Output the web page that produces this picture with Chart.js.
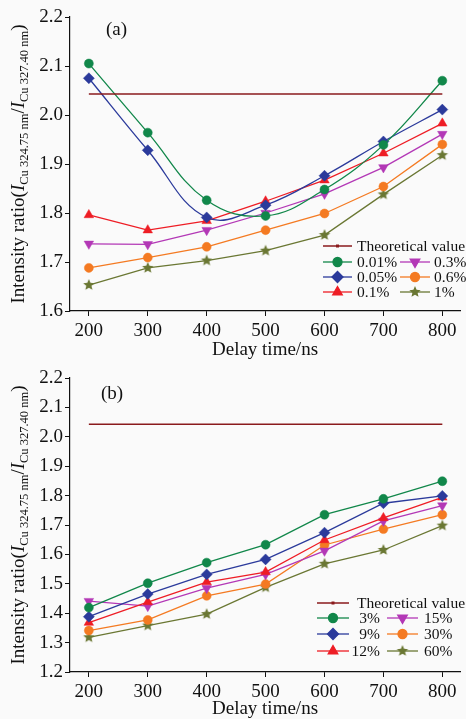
<!DOCTYPE html>
<html><head><meta charset="utf-8">
<script src="https://cdn.jsdelivr.net/npm/chart.js@4.4.1/dist/chart.umd.min.js"></script>
<style>
html,body{margin:0;padding:0;background:#fafafa;width:466px;height:719px;overflow:hidden}
#wa{position:absolute;left:0;top:0;width:466px;height:360px}
#wb{position:absolute;left:0;top:361px;width:466px;height:358px}
</style></head><body>
<div id="wa"><canvas id="ca"></canvas></div>
<div id="wb"><canvas id="cb"></canvas></div>
<script>
// ---- data ----
const delays = [200, 300, 400, 500, 600, 700, 800];
const xTicks = [200, 300, 400, 500, 600, 700, 800];
const yTicksA = [1.6, 1.7, 1.8, 1.9, 2.0, 2.1, 2.2];
const yTicksB = [1.2, 1.3, 1.4, 1.5, 1.6, 1.7, 1.8, 1.9, 2.0, 2.1, 2.2];
const theoretical = 2.043;
const theoreticalLabel = 'Theoretical value';

const labelsA = ['0.01%', '0.05%', '0.1%', '0.3%', '0.6%', '1%'];
const a001 = [2.105, 1.964, 1.826, 1.794, 1.848, 1.939, 2.070];
const a005 = [2.075, 1.928, 1.791, 1.816, 1.876, 1.946, 2.011];
const a01  = [1.796, 1.765, 1.784, 1.824, 1.867, 1.922, 1.983];
const a03  = [1.737, 1.736, 1.765, 1.800, 1.839, 1.893, 1.961];
const a06  = [1.688, 1.709, 1.731, 1.765, 1.799, 1.854, 1.940];
const a1   = [1.653, 1.688, 1.703, 1.723, 1.755, 1.838, 1.918];

const labelsB = ['3%', '9%', '12%', '15%', '30%', '60%'];
const b3  = [1.419, 1.502, 1.572, 1.633, 1.735, 1.789, 1.849];
const b9  = [1.388, 1.465, 1.532, 1.583, 1.674, 1.774, 1.799];
const b12 = [1.368, 1.438, 1.506, 1.540, 1.649, 1.724, 1.794];
const b15 = [1.441, 1.424, 1.485, 1.532, 1.612, 1.714, 1.766];
const b30 = [1.341, 1.377, 1.459, 1.499, 1.632, 1.686, 1.735];
const b60 = [1.318, 1.358, 1.397, 1.488, 1.568, 1.615, 1.698];

// ---- styles ----
const FONT = '"Liberation Serif", "Times New Roman", serif';
const C = {green:'#11874a', blue:'#2b3a9b', red:'#ee1d25', mag:'#b338b6', orange:'#f47a22', olive:'#6a7733', theo:'#8a1a1c'};

function starImg(color, r){
  const s = Math.ceil(r*2+2);
  const c = document.createElement('canvas'); c.width = s; c.height = s;
  const g = c.getContext('2d'); g.fillStyle = color; g.beginPath();
  for (let i=0;i<10;i++){
    const rr = i%2 ? r*0.45 : r; const a = -Math.PI/2 + i*Math.PI/5;
    g.lineTo(s/2 + rr*Math.cos(a), s/2 + rr*Math.sin(a));
  }
  g.closePath(); g.fill(); return c;
}
const styles = [
  {color:C.green, pointStyle:'circle', radius:4.5, rotation:0},
  {color:C.blue, pointStyle:'rectRot', radius:5.5, rotation:0},
  {color:C.red, pointStyle:'triangle', radius:5.5, rotation:0},
  {color:C.mag, pointStyle:'triangle', radius:5.5, rotation:180},
  {color:C.orange, pointStyle:'circle', radius:4.5, rotation:0},
  {color:C.olive, pointStyle:starImg(C.olive, 6), radius:5.5, rotation:0},
];

function pts(arr){ return delays.map((d,i)=>({x:d, y:arr[i]})); }

function buildDatasets(labels, series, tensions){
  const ds = [{
    label: theoreticalLabel,
    data: pts(delays.map(()=>theoretical)),
    borderColor: C.theo, backgroundColor: C.theo, borderWidth: 1.5,
    pointRadius: 0, tension: 0
  }];
  series.forEach((s,i)=>{
    const st = styles[i];
    ds.push({
      label: labels[i], data: pts(s),
      borderColor: st.color, backgroundColor: st.color, borderWidth: 1.3,
      pointStyle: st.pointStyle, pointRadius: st.radius, pointRotation: st.rotation,
      pointBorderWidth: 0.5, pointHoverRadius: st.radius,
      tension: tensions[i] || 0
    });
  });
  return ds;
}

function yTitlePlugin(baseX){
  return {
    id:'ytitle',
    afterDraw(chart){
      const ctx = chart.ctx, ca = chart.chartArea;
      const cy = (ca.top + ca.bottom)/2;
      const big = '19px ' + FONT, bigI = 'italic 19px ' + FONT, sub = '12.5px ' + FONT;
      const segs = [
        {t:'Intensity ratio(', f:big, d:0},
        {t:'I', f:bigI, d:0},
        {t:'Cu 324.75 nm', f:sub, d:4},
        {t:'/', f:big, d:0},
        {t:'I', f:bigI, d:0},
        {t:'Cu 327.40 nm', f:sub, d:4},
        {t:')', f:big, d:0},
      ];
      ctx.save();
      let total = 0;
      segs.forEach(s=>{ ctx.font = s.f; s.w = ctx.measureText(s.t).width; total += s.w; });
      ctx.translate(baseX, cy);
      ctx.rotate(-Math.PI/2);
      ctx.fillStyle = '#111';
      ctx.textBaseline = 'alphabetic';
      ctx.textAlign = 'left';
      let x = -total/2;
      segs.forEach(s=>{ ctx.font = s.f; ctx.fillText(s.t, x, s.d); x += s.w; });
      ctx.restore();
    }
  };
}

function legendPlugin(cfg){
  return {
    id:'customLegend',
    afterDraw(chart){
      const ctx = chart.ctx;
      const ds = chart.data.datasets;
      ctx.save();
      ctx.font = '15.5px ' + FONT;
      ctx.fillStyle = '#111';
      ctx.textBaseline = 'middle';
      const drawSample = (d, x1, x2, y) => {
        ctx.strokeStyle = d.borderColor; ctx.lineWidth = d.borderWidth;
        ctx.beginPath(); ctx.moveTo(x1, y); ctx.lineTo(x2, y); ctx.stroke();
        ctx.fillStyle = d.backgroundColor;
        if (d.pointRadius > 0) {
          Chart.helpers.drawPoint(ctx, {pointStyle:d.pointStyle, rotation:d.pointRotation||0, radius:d.pointRadius, borderWidth:0.5}, (x1+x2)/2, y);
        } else {
          ctx.fillRect((x1+x2)/2-1.5, y-1.5, 3, 3);
        }
        ctx.fillStyle = '#111';
      };
      // theoretical row
      drawSample(ds[0], cfg.c1x1, cfg.c1x2, cfg.rows[0]);
      ctx.textAlign = 'left';
      ctx.fillText(ds[0].label, cfg.theoText, cfg.rows[0] + 1);
      for (let i=1;i<ds.length;i++){
        const col = i <= 3 ? 0 : 1;
        const row = col === 0 ? i : i-3;
        const y = cfg.rows[row];
        if (col === 0){
          drawSample(ds[i], cfg.c1x1, cfg.c1x2, y);
          ctx.textAlign = cfg.c1align; ctx.fillText(ds[i].label, cfg.c1text, y + 1);
        } else {
          drawSample(ds[i], cfg.c2x1, cfg.c2x2, y);
          ctx.textAlign = 'left'; ctx.fillText(ds[i].label, cfg.c2text, y + 1);
        }
      }
      ctx.restore();
    }
  };
}

const panelLabel = (txt, x, y) => ({
  id:'panelLabel',
  afterDraw(chart){
    const ctx = chart.ctx; ctx.save();
    ctx.font = '19px ' + FONT; ctx.fillStyle = '#111';
    ctx.textAlign = 'left'; ctx.textBaseline = 'middle';
    ctx.fillText(txt, x, y); ctx.restore();
  }
});

function makeChart(id, datasets, yTicks, yMin, yMax, xH, plugins){
  return new Chart(document.getElementById(id), {
    type:'line',
    data:{datasets},
    options:{
      responsive:true, maintainAspectRatio:false, animation:false,
      layout:{padding:{left:0, right:0, top:17, bottom:0}},
      plugins:{legend:{display:false}, tooltip:{enabled:false}},
      scales:{
        x:{
          type:'linear', min:168, max:830,
          afterFit(s){ s.height = xH; },
          afterBuildTicks(s){ s.ticks = xTicks.map(v=>({value:v})); },
          grid:{display:true, drawOnChartArea:false, drawTicks:true, tickLength:5, color:'#111', lineWidth:1},
          border:{display:true, color:'#111', width:1.2},
          ticks:{color:'#111', font:{family:FONT, size:19}, padding:4, maxRotation:0, autoSkip:false, callback:v=>String(v)},
          title:{display:true, text:'Delay time/ns', color:'#111', font:{family:FONT, size:19, lineHeight:1}, padding:0}
        },
        y:{
          type:'linear', min:yMin, max:yMax,
          afterFit(s){ s.width = 70; },
          afterBuildTicks(s){ s.ticks = yTicks.map(v=>({value:v})); },
          grid:{display:true, drawOnChartArea:false, drawTicks:true, tickLength:5, color:'#111', lineWidth:1},
          border:{display:true, color:'#111', width:1.2},
          ticks:{color:'#111', font:{family:FONT, size:19}, padding:2, autoSkip:false, callback:v=>Number(v).toFixed(1)}
        }
      }
    },
    plugins
  });
}

makeChart('ca', buildDatasets(labelsA, [a001,a005,a01,a03,a06,a1], [0.4,0.4,0,0,0,0]), yTicksA, 1.6, 2.2, 49, [
  yTitlePlugin(24),
  legendPlugin({rows:[246,262,277,292], c1x1:323, c1x2:352, theoText:357, c1text:357, c1align:'left', c2x1:400, c2x2:430, c2text:434}),
  panelLabel('(a)', 106, 30)
]);
makeChart('cb', buildDatasets(labelsB, [b3,b9,b12,b15,b30,b60], [0,0,0,0,0,0]), yTicksB, 1.2, 2.2, 47, [
  yTitlePlugin(24),
  legendPlugin({rows:[242,257,273,290], c1x1:317, c1x2:349, theoText:357, c1text:380, c1align:'right', c2x1:387, c2x2:418, c2text:424}),
  panelLabel('(b)', 101, 33)
]);
</script>
</body></html>
